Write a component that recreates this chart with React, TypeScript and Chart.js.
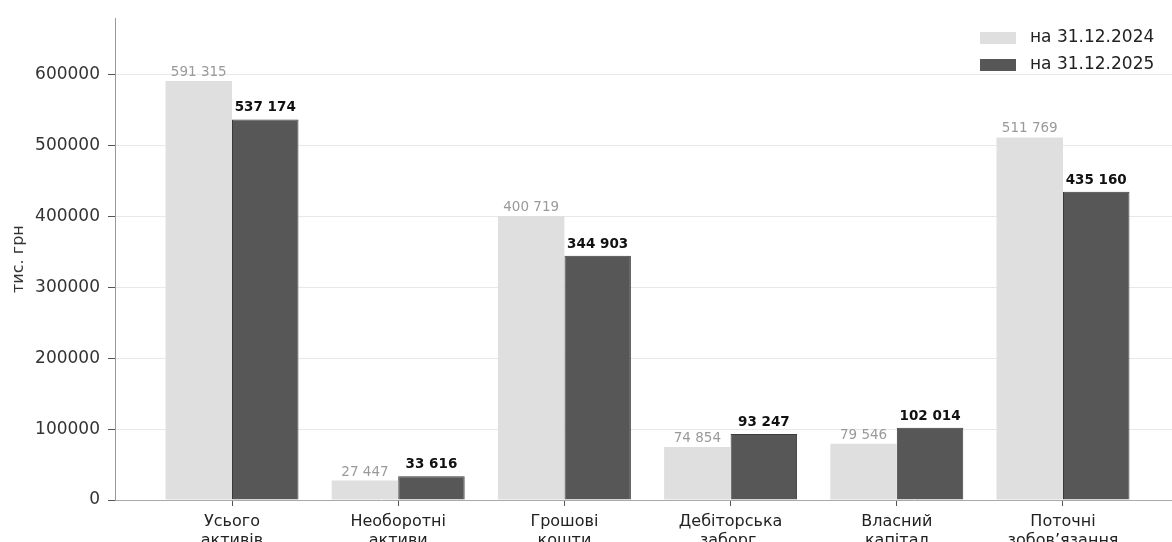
import React, { useEffect, useRef } from 'react';
import { Chart, registerables } from 'chart.js';

Chart.register(...registerables);

const CATEGORIES: string[][] = [
  ['Усього', 'активів'],
  ['Необоротні', 'активи'],
  ['Грошові', 'кошти'],
  ['Дебіторська', 'заборг.'],
  ['Власний', 'капітал'],
  ['Поточні', 'зобов’язання'],
];
const SERIES_NAMES = ['на 31.12.2024', 'на 31.12.2025'];
const VALUES_2024 = [591315, 27447, 400719, 74854, 79546, 511769];
const VALUES_2025 = [537174, 33616, 344903, 93247, 102014, 435160];
const Y_TICKS = [0, 100000, 200000, 300000, 400000, 500000, 600000];
const Y_MAX = 680012;
const Y_TITLE = 'тис. грн';

const COLORS = ['#dfdfdf', '#575757'];
const BORDERS = ['#dadada', '#3a3a3a'];

const FONT = 'DejaVu Sans';

const fmt = (v: number) => String(v).replace(/\B(?=(\d{3})+(?!\d))/g, ' ');

const valueLabels = {
  id: 'valueLabels',
  afterDatasetsDraw(chart: any) {
    const ctx = chart.ctx;
    ctx.save();
    chart.data.datasets.forEach((ds: any, di: number) => {
      const meta = chart.getDatasetMeta(di);
      meta.data.forEach((bar: any, i: number) => {
        const v = ds.data[i].y;
        ctx.textAlign = 'center';
        ctx.textBaseline = 'alphabetic';
        if (di === 0) {
          ctx.font = `13.5px "${FONT}"`;
          ctx.fillStyle = '#9a9a9a';
          ctx.fillText(fmt(v), bar.x, bar.y - 5);
        } else {
          ctx.font = `bold 13.5px "${FONT}"`;
          ctx.fillStyle = '#111';
          ctx.fillText(fmt(v), bar.x, bar.y - 8);
        }
      });
    });
    ctx.restore();
  },
};

const customLegend = {
  id: 'customLegend',
  afterDraw(chart: any) {
    const ctx = chart.ctx;
    const right = chart.chartArea.right;
    ctx.save();
    SERIES_NAMES.forEach((name, i) => {
      const cy = 38 + i * 27;
      const px = right - 200;
      ctx.fillStyle = COLORS[i];
      ctx.fillRect(px, cy - 6, 36, 12);
      ctx.font = `17px "${FONT}"`;
      ctx.fillStyle = '#222';
      ctx.textAlign = 'left';
      ctx.textBaseline = 'middle';
      ctx.fillText(name, px + 50, cy);
    });
    ctx.restore();
  },
};

export default function App() {
  const ref = useRef<HTMLCanvasElement | null>(null);

  useEffect(() => {
    if (!ref.current) return;
    const chart = new Chart(ref.current, {
      type: 'bar',
      data: {
        datasets: [
          {
            label: SERIES_NAMES[0],
            data: VALUES_2024.map((y, i) => ({ x: i, y })),
            backgroundColor: COLORS[0],
            borderColor: BORDERS[0],
            borderWidth: 0,
            categoryPercentage: 0.8,
            barPercentage: 1,
          },
          {
            label: SERIES_NAMES[1],
            data: VALUES_2025.map((y, i) => ({ x: i, y })),
            backgroundColor: COLORS[1],
            borderColor: BORDERS[1],
            borderWidth: 1,
            categoryPercentage: 0.8,
            barPercentage: 1,
          },
        ],
      } as any,
      options: {
        animation: false,
        responsive: false,
        layout: { padding: { left: 0, right: 4, top: 16, bottom: 0 } },
        plugins: {
          legend: { display: false },
          tooltip: { enabled: false },
        },
        scales: {
          x: {
            type: 'linear',
            min: -0.704,
            max: 5.704,
            offset: false,
            afterBuildTicks: (s: any) => {
              s.ticks = CATEGORIES.map((_, i) => ({ value: i }));
            },
            afterFit: (s: any) => {
              s.height = 70;
            },
            grid: {
              drawOnChartArea: false,
              drawTicks: true,
              tickLength: 6,
              tickColor: '#555',
              offset: false,
            },
            border: { display: true, color: '#aaa' },
            ticks: {
              autoSkip: false,
              maxRotation: 0,
              padding: 7,
              color: '#222',
              font: { family: FONT, size: 16, lineHeight: 1.15 },
              callback: (v: any) => CATEGORIES[v] ?? '',
            },
          },
          y: {
            min: 0,
            max: Y_MAX,
            afterBuildTicks: (s: any) => {
              s.ticks = Y_TICKS.map((v) => ({ value: v }));
            },
            afterFit: (s: any) => {
              s.width = 115;
            },
            grid: {
              color: (c: any) => (c.tick && c.tick.value === 0 ? 'rgba(0,0,0,0)' : '#e8e8e8'),
              tickColor: '#555',
              tickLength: 7,
            },
            border: { color: '#999' },
            ticks: {
              padding: 8,
              color: '#333',
              font: { family: FONT, size: 17 },
              callback: (v: any) => String(v),
            },
            title: {
              display: true,
              text: Y_TITLE,
              color: '#333',
              font: { family: FONT, size: 16 },
              padding: { top: 9, bottom: 0 },
            },
          },
        },
      } as any,
      plugins: [valueLabels, customLegend],
    });
    return () => chart.destroy();
  }, []);

  return (
    <div style={{ position: 'fixed', left: 0, top: 0, width: 1172, height: 542, overflow: 'hidden', background: '#fff' }}>
      <canvas ref={ref} width={1184} height={570} style={{ width: 1184, height: 570, display: 'block' }} />
    </div>
  );
}
